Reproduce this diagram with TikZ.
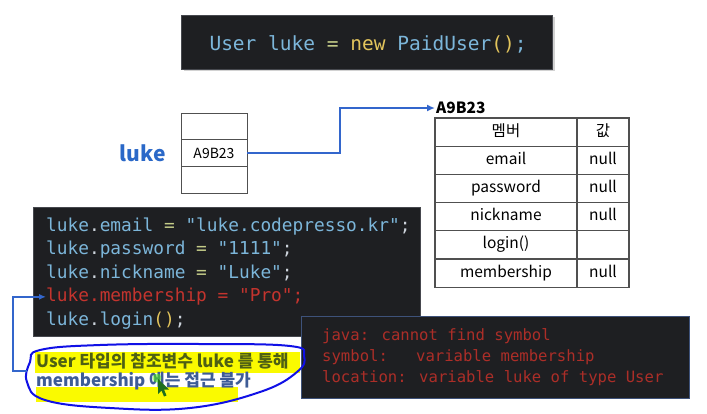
\documentclass[tikz,border=0pt]{standalone}
\usepackage{fontspec}
\setmainfont{Noto Sans CJK KR}
\newfontfamily\codefont{DejaVu Sans Mono}
\usetikzlibrary{positioning,arrows.meta,calc,shadows}
\definecolor{CodeBg}{RGB}{30,31,34}
\definecolor{CodeEdge}{RGB}{70,72,78}
\definecolor{ErrEdge}{RGB}{62,82,122}
\definecolor{CodeBlue}{RGB}{124,182,218}
\definecolor{CodePale}{RGB}{205,212,220}
\definecolor{CodeGreen}{RGB}{196,204,136}
\definecolor{CodeGold}{RGB}{226,196,92}
\definecolor{CodeRed}{RGB}{196,52,46}
\definecolor{ErrRed}{RGB}{172,46,40}
\definecolor{LinkBlue}{RGB}{51,102,204}
\definecolor{LukeBlue}{RGB}{42,104,200}
\definecolor{GridGray}{RGB}{80,80,80}
\definecolor{MarkYellow}{RGB}{250,250,0}
\definecolor{NoteOlive}{RGB}{78,96,20}
\definecolor{NoteBlue}{RGB}{62,92,150}
\definecolor{PenBlue}{RGB}{16,16,230}
\definecolor{CursorGreen}{RGB}{30,110,30}
\newcommand{\jid}[1]{\textcolor{CodeBlue}{#1}}
\newcommand{\jop}[1]{\textcolor{CodeGreen}{#1}}
\newcommand{\jpn}[1]{\textcolor{CodePale}{#1}}
\newcommand{\jkw}[1]{\textcolor{CodeGold}{#1}}
\tikzset{
  flow/.style={-{Latex[length=8pt,width=7pt]},line width=2.6pt,draw=LinkBlue},
  noteflow/.style={-{Latex[length=7pt,width=6pt]},line width=1.9pt,draw=LinkBlue},
  darkbox/.style={fill=CodeBg,draw=CodeEdge,inner sep=0pt,outer sep=0pt},
  codeline/.style={anchor=base west,inner sep=0pt,
    font=\codefont\fontsize{17.8}{20}\selectfont},
  errline/.style={anchor=base west,inner sep=0pt,text=ErrRed,
    font=\codefont\fontsize{15.6}{18}\selectfont},
  memcell/.style={draw=GridGray,line width=0.9pt,minimum width=66pt,
    minimum height=26.6pt,inner sep=0pt,outer sep=0pt,font=\fontsize{14}{16}\selectfont},
  keycell/.style={draw=GridGray,line width=1.3pt,minimum width=142pt,
    minimum height=28.2pt,inner sep=0pt,outer sep=0pt,text height=11pt,
    text depth=3pt,font=\fontsize{15.5}{18}\selectfont},
  valcell/.style={keycell,minimum width=52pt},
  notetext/.style={anchor=base west,inner sep=0pt,font=\bfseries\fontsize{17}{20}\selectfont}
}
\begin{document}
\begin{tikzpicture}[x=1pt,y=-1pt]
  \useasboundingbox[fill=white] (0,0) rectangle (707,413);
  % declaration
  \node[darkbox,minimum width=371pt,minimum height=54pt,
    drop shadow={shadow xshift=2pt,shadow yshift=-2pt,opacity=0.35}] (declbox) at (367,42) {};
  \node[codeline,anchor=base,font=\codefont\fontsize{19.5}{22}\selectfont] (decl) at (368,50)
    {\jid{User luke} \jop{=} \jkw{new} \jid{PaidUser}\jkw{()}\jid{;}};

  % reference variable
  \node[memcell] (slotTop) at (214,126.5) {};
  \node[memcell,below=0pt of slotTop] (slotMid) {A9B23};
  \node[memcell,below=0pt of slotMid] (slotBot) {};
  \node[left=15pt of slotMid,inner sep=0pt,text=LukeBlue,
    font=\bfseries\fontsize{21}{24}\selectfont] (luke) {luke};

  % object
  \node[anchor=west,inner sep=1pt,font=\bfseries\fontsize{15.5}{18}\selectfont] (addr) at (435,108) {A9B23};
  \draw[flow] (slotMid.east) -- ++(93,0) |- (addr.west);
  \node[keycell] (hKey) at (506,132.1) {멤버};
  \node[valcell,right=0pt of hKey] (hVal) {값};
  \node[keycell,below=0pt of hKey] (kEmail) {email};
  \node[valcell,right=0pt of kEmail] (vEmail) {null};
  \node[keycell,below=0pt of kEmail] (kPass) {password};
  \node[valcell,right=0pt of kPass] (vPass) {null};
  \node[keycell,below=0pt of kPass] (kNick) {nickname};
  \node[valcell,right=0pt of kNick] (vNick) {null};
  \node[keycell,below=0pt of kNick] (kLogin) {login()};
  \node[valcell,right=0pt of kLogin] (vLogin) {};
  \node[keycell,below=0pt of kLogin] (kMember) {membership};
  \node[valcell,right=0pt of kMember] (vMember) {null};

  % code
  \node[darkbox,minimum width=387pt,minimum height=129pt] (codebox) at (226.5,271.5) {};
  \node[codeline] (lnEmail) at (46,231)
    {\jid{luke}\jpn{.}\jid{email} \jop{=} \jid{"luke.codepresso.kr"}\jpn{;}};
  \node[codeline] (lnPass) at (46,254.6)
    {\jid{luke}\jpn{.}\jid{password} \jop{=} \jid{"1111"}\jpn{;}};
  \node[codeline] (lnNick) at (46,278.2)
    {\jid{luke}\jpn{.}\jid{nickname} \jop{=} \jid{"Luke"}\jpn{;}};
  \node[codeline,text=CodeRed] (lnMember) at (46,301.8) {luke.membership = "Pro";};
  \node[codeline] (lnLogin) at (46,325.4) {\jid{luke}\jpn{.}\jid{login}\jkw{()}\jpn{;}};

  % compiler error
  \node[darkbox,draw=ErrEdge,line width=1pt,minimum width=388pt,minimum height=82pt] (errbox) at (495,357) {};
  \node[errline] (err1) at (322,340.5) {java: cannot find symbol};
  \node[errline] (err2) at (322,361.5) {symbol:\ \ \ variable membership};
  \node[errline] (err3) at (322,382.5) {location: variable luke of type User};

  % note
  \fill[MarkYellow] (35,352) rectangle (300,373);
  \fill[MarkYellow] (36,387) rectangle (238,402);
  \node[notetext,text=NoteOlive] (note1) at (36,367) {User 타입의 참조변수 luke 를 통해};
  \node[notetext,text=NoteBlue] (note2) at (36,386) {membership 에는 접근 불가};
  \draw[PenBlue,line width=2pt,line cap=round] plot[smooth cycle,tension=0.7] coordinates
    {(40,350) (100,345) (200,344) (290,346) (304,356) (297,372) (260,392)
     (190,408) (110,408) (45,400) (27,382) (30,362)};
  \coordinate (noteHook) at (27,371);
  \draw[noteflow] (noteHook) -- ++(-14,0) |- (lnMember.west);

  % cursor
  \fill[green!70!yellow,opacity=0.5] (157,378) circle (4.5);
  \fill[CursorGreen] (158,379) -- (158,394) -- (161.5,390.5) -- (164,396.5)
    -- (166.5,395.5) -- (164,389.5) -- (169,389.5) -- cycle;
\end{tikzpicture}
\end{document}
